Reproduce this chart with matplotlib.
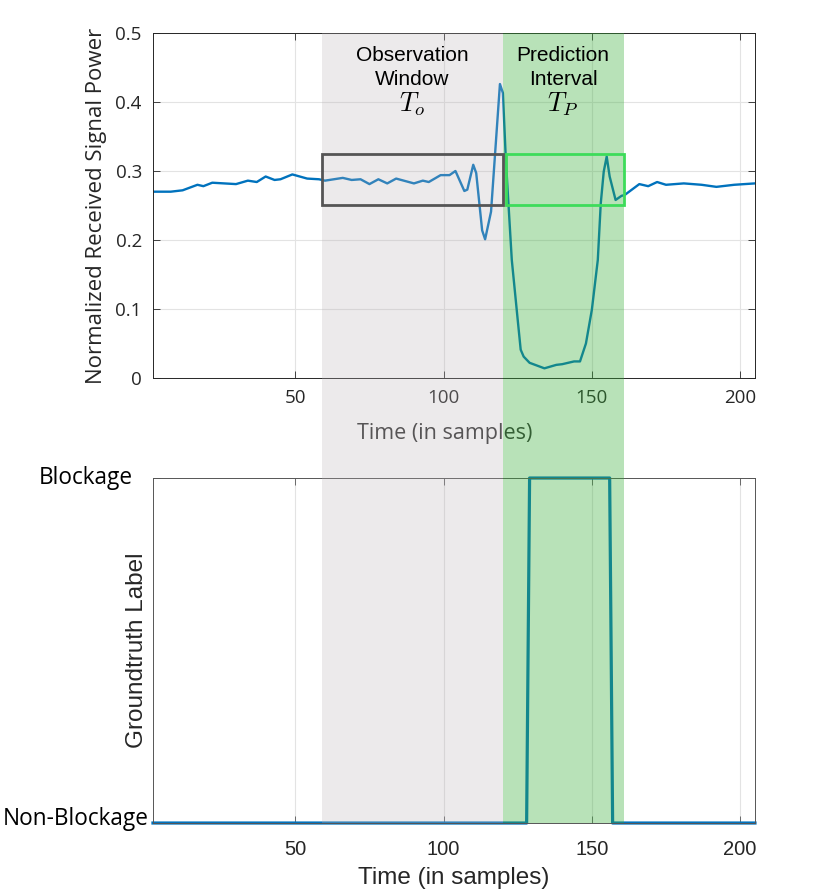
import numpy as np
import matplotlib
matplotlib.use('Agg')
from matplotlib import pyplot as plt
from matplotlib.patches import Rectangle
from matplotlib.transforms import blended_transform_factory

# received power trace (sample index, normalized power)
sig_x = [2, 8, 12, 17, 19, 22, 30, 34, 37, 40,
         43, 45, 49, 54, 58, 60, 66, 69, 72, 75,
         78, 81, 84, 90, 93, 95, 99, 102, 104, 107,
         108, 110, 111, 113, 114, 116, 119, 120, 121, 123,
         125, 126, 127, 129, 134, 138, 140, 144, 146, 148,
         150, 152, 153, 154, 155, 156, 158, 160, 161, 166,
         169, 172, 175, 181, 187, 192, 198, 205]
sig_y = [0.270, 0.270, 0.272, 0.280, 0.278, 0.283, 0.281, 0.286, 0.284, 0.292,
         0.287, 0.288, 0.295, 0.289, 0.288, 0.286, 0.290, 0.287, 0.288, 0.281,
         0.288, 0.282, 0.289, 0.282, 0.286, 0.284, 0.294, 0.294, 0.300, 0.271,
         0.273, 0.309, 0.297, 0.214, 0.201, 0.241, 0.426, 0.413, 0.316, 0.171,
         0.084, 0.041, 0.031, 0.022, 0.014, 0.019, 0.020, 0.024, 0.024, 0.050,
         0.099, 0.171, 0.253, 0.299, 0.321, 0.292, 0.258, 0.264, 0.265, 0.281,
         0.278, 0.284, 0.280, 0.282, 0.280, 0.277, 0.280, 0.282]

# groundtruth label (0 = non-blockage, 1 = blockage)
lab_x = [2, 128, 129, 156, 157, 205]
lab_y = [0, 0, 1, 1, 0, 0]

obs_win = (59, 120)
pred_win = (120, 161)
pred_box = (121, 161)
box_y = (0.25, 0.325)

xticks = [50, 100, 150, 200]
yticks = [0, 0.1, 0.2, 0.3, 0.4, 0.5]
ytick_labels = ['0', '0.1', '0.2', '0.3', '0.4', '0.5']

plt.rcParams['mathtext.fontset'] = 'cm'

blue = '#0072bd'
dark = '#262626'
sans = ['Liberation Sans', 'DejaVu Sans']
segoe = ['Open Sans', 'DejaVu Sans']

fig = plt.figure(figsize=(8.3, 8.94), dpi=100)
ax1 = fig.add_axes([0.1843, 0.5772, 0.7253, 0.3859])
ax2 = fig.add_axes([0.1843, 0.0794, 0.7253, 0.3859])

# top: signal power
ax1.plot(sig_x, sig_y, color=blue, lw=1.7)
ax1.set_xlim(2, 205)
ax1.set_ylim(0, 0.5)
ax1.set_xticks(xticks)
ax1.set_yticks(yticks)
ax1.set_yticklabels(ytick_labels)
ax1.tick_params(direction='in', top=True, right=True, length=5, width=0.6,
                labelsize=13.5, pad=8, labelcolor=dark, color=dark,
                labelfontfamily='Open Sans')
ax1.grid(True, color='#e3e3e3', lw=0.8)
ax1.set_axisbelow(True)
for s in ax1.spines.values():
    s.set_color(dark)
    s.set_linewidth(0.7)
ax1.set_xlabel('Time (in samples)', fontsize=15.5, family=segoe, color='#333333')
ax1.xaxis.set_label_coords(0.485, -0.13)
ax1.set_ylabel('Normalized Received Signal Power', fontsize=16, family=segoe, color=dark)
ax1.yaxis.set_label_coords(-0.076, 0.5)

# bottom: groundtruth label
ax2.plot(lab_x, lab_y, color=blue, lw=2.3, clip_on=False)
ax2.set_xlim(2, 205)
ax2.set_ylim(0, 1)
ax2.set_xticks(xticks)
ax2.set_yticks([0, 1])
ax2.set_yticklabels(['', ''])
ax2.tick_params(direction='in', top=True, right=True, length=5, width=0.6,
                labelsize=14.5, pad=12, labelcolor=dark, color='#555555',
                labelfontfamily='Liberation Sans')
ax2.grid(True, axis='x', color='#e3e3e3', lw=0.8)
ax2.set_axisbelow(True)
for s in ax2.spines.values():
    s.set_color('#555555')
    s.set_linewidth(0.7)
ax2.set_xlabel('Time (in samples)', fontsize=17.5, family=sans, color=dark)
ax2.xaxis.set_label_coords(0.5, -0.128)
ax2.set_ylabel('Groundtruth Label', fontsize=17.5, family=sans, color=dark)
ax2.yaxis.set_label_coords(-0.008, 0.5)
ax2.text(-0.033, 1.0, 'Blockage', transform=ax2.transAxes, ha='right', va='center',
         fontsize=16.3, family=segoe, color='black')
ax2.text(-0.008, 0.012, 'Non-Blockage', transform=ax2.transAxes, ha='right', va='center',
         fontsize=16.3, family=segoe, color='black')

# shaded windows spanning both panels
y_lo = ax2.get_position().y0
y_hi = ax1.get_position().y1
trans = blended_transform_factory(ax1.transData, fig.transFigure)
fig.add_artist(Rectangle((obs_win[0], y_lo), obs_win[1] - obs_win[0], y_hi - y_lo,
                         transform=trans, facecolor=(185/255, 178/255, 182/255),
                         alpha=0.27, lw=0, zorder=2))
fig.add_artist(Rectangle((pred_win[0], y_lo), pred_win[1] - pred_win[0], y_hi - y_lo,
                         transform=trans, facecolor=(56/255, 174/255, 56/255),
                         alpha=0.357, lw=0, zorder=2))

# boxes around the observed / predicted parts
fig.add_artist(Rectangle((obs_win[0], box_y[0]), obs_win[1] - obs_win[0], box_y[1] - box_y[0],
                         transform=ax1.transData, fill=False, edgecolor='#555555',
                         lw=2, zorder=3))
fig.add_artist(Rectangle((pred_box[0], box_y[0]), pred_box[1] - pred_box[0], box_y[1] - box_y[0],
                         transform=ax1.transData, fill=False, edgecolor='#3ddc5a',
                         lw=2, zorder=3))

obs_cx = 89.3
pred_cx = 140.3
for cx, l1, l2, sym in [(obs_cx, 'Observation', 'Window', '$T_o$'),
                        (pred_cx, 'Prediction', 'Interval', '$T_P$')]:
    fig.text(cx, 0.467, l1, transform=ax1.transData, ha='center', va='center',
             fontsize=15, family=sans, color='black', zorder=4)
    fig.text(cx, 0.432, l2, transform=ax1.transData, ha='center', va='center',
             fontsize=15, family=sans, color='black', zorder=4)
    fig.text(cx, 0.396, sym, transform=ax1.transData, ha='center', va='center',
             fontsize=19, color='black', zorder=4)

fig.savefig('out.png', dpi=100)
